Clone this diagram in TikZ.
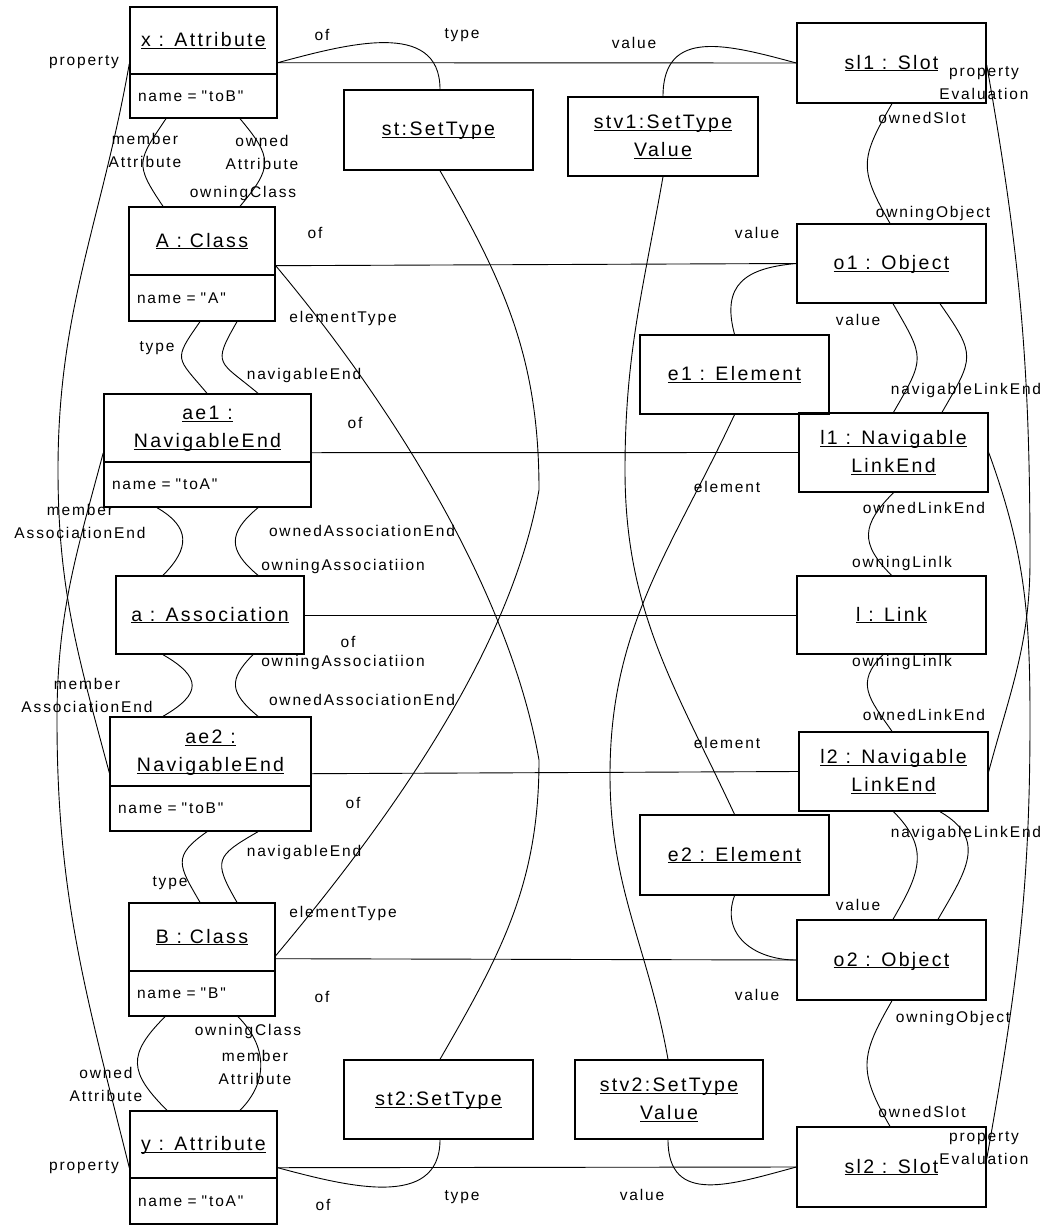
\documentclass[tikz,border=0pt]{standalone}
\usepackage{fontspec}
\setmainfont{Liberation Sans}[LetterSpace=12, Ligatures=TeXOff]
\usetikzlibrary{positioning}
\newcommand{\objfont}{\fontsize{19.5}{28}\selectfont}
\newcommand{\rolefont}{\fontsize{15.5}{23}\selectfont}
\newcommand{\objname}[1]{\underline{\raisebox{0pt}[\height][0pt]{#1}}}

\begin{document}
\begin{tikzpicture}[x=1pt, y=1pt]

% --- Styles ---
\tikzset{
    obj/.style={draw, line width=1.4pt, font=\objfont, align=center, inner sep=0pt},
    objval/.style={draw, line width=1.4pt, font=\rolefont, align=left, inner xsep=8pt, inner ysep=0pt},
    role/.style={font=\rolefont, align=center, inner sep=0pt},
    link/.style={line width=0.9pt}
}

\useasboundingbox (0,0) rectangle (1050,-1225);

% --- Left column: model side ---
\node[obj, minimum width=147pt, minimum height=67pt] (xattr) at (203.5,-40.5) {\objname{x : Attribute}};
\node[objval, text width=131pt, minimum height=44pt, below=-1.4pt of xattr] (xattrv) {name = "toB"};

\node[obj, minimum width=146pt, minimum height=68pt] (aclass) at (202,-241) {\objname{A : Class}};
\node[objval, text width=130pt, minimum height=46pt, below=-1.4pt of aclass] (aclassv) {name = "A"};

\node[obj, minimum width=207pt, minimum height=68pt] (ae1) at (207.5,-428) {\objname{ae1 :}\\\objname{NavigableEnd}};
\node[objval, text width=191pt, minimum height=45pt, below=-1.4pt of ae1] (ae1v) {name = "toA"};

\node[obj, minimum width=188pt, minimum height=78pt] (assoc) at (210,-615) {\objname{a : Association}};

\node[obj, minimum width=201pt, minimum height=69pt] (ae2) at (210.5,-751.5) {\objname{ae2 :}\\\objname{NavigableEnd}};
\node[objval, text width=185pt, minimum height=45pt, below=-1.4pt of ae2] (ae2v) {name = "toB"};

\node[obj, minimum width=146pt, minimum height=68pt] (bclass) at (202,-937) {\objname{B : Class}};
\node[objval, text width=130pt, minimum height=45pt, below=-1.4pt of bclass] (bclassv) {name = "B"};

\node[obj, minimum width=147pt, minimum height=67pt] (yattr) at (203.5,-1144.5) {\objname{y : Attribute}};
\node[objval, text width=131pt, minimum height=46pt, below=-1.4pt of yattr] (yattrv) {name = "toA"};

% --- Middle column: types and elements ---
\node[obj, minimum width=189pt, minimum height=80pt] (st) at (438.5,-130) {\objname{st:SetType}};
\node[obj, minimum width=190pt, minimum height=79pt] (stv1) at (663,-136.5) {\objname{stv1:SetType}\\\objname{Value}};
\node[obj, minimum width=189pt, minimum height=79pt] (e1) at (734.5,-374.5) {\objname{e1 : Element}};
\node[obj, minimum width=189pt, minimum height=80pt] (e2) at (734.5,-855) {\objname{e2 : Element}};
\node[obj, minimum width=189pt, minimum height=79pt] (st2) at (438.5,-1099.5) {\objname{st2:SetType}};
\node[obj, minimum width=188pt, minimum height=79pt] (stv2) at (669,-1099.5) {\objname{stv2:SetType}\\\objname{Value}};

% --- Right column: instance side ---
\node[obj, minimum width=189pt, minimum height=80pt] (sl1) at (891.5,-63) {\objname{sl1 : Slot}};
\node[obj, minimum width=189pt, minimum height=79pt] (o1) at (891.5,-263.5) {\objname{o1 : Object}};
\node[obj, minimum width=189pt, minimum height=79pt] (l1) at (893.5,-452.5) {\objname{l1 : Navigable}\\\objname{LinkEnd}};
\node[obj, minimum width=189pt, minimum height=78pt] (lnk) at (891.5,-615) {\objname{l : Link}};
\node[obj, minimum width=189pt, minimum height=79pt] (l2) at (893.5,-771.5) {\objname{l2 : Navigable}\\\objname{LinkEnd}};
\node[obj, minimum width=189pt, minimum height=80pt] (o2) at (891.5,-960) {\objname{o2 : Object}};
\node[obj, minimum width=189pt, minimum height=80pt] (sl2) at (891.5,-1167) {\objname{sl2 : Slot}};

% --- Bend points of the long links ---
\coordinate (bendSt) at (539,-490);
\coordinate (bendSt2) at (539,-760);
\coordinate (bendStv1) at (625,-470);
\coordinate (bendStv2) at (610,-775);
\coordinate (bendX) at (58,-470);
\coordinate (bendY) at (57,-720);
\coordinate (bendSl1) at (1030,-560);
\coordinate (bendSl2) at (1030,-720);

% --- "of" links (straight across) ---
\draw[link] ([yshift=12pt]xattr.south east) -- (sl1.west);
\draw[link] ([yshift=10pt]aclass.south east) -- (o1.west);
\draw[link] ([yshift=10pt]ae1.south east) -- (l1.west);
\draw[link] (assoc.east) -- (lnk.west);
\draw[link] ([yshift=13pt]ae2.south east) -- (l2.west);
\draw[link] ([yshift=13pt]bclass.south east) -- (o2.west);
\draw[link] ([yshift=11pt]yattr.south east) -- (sl2.west);

% --- type / value links to the set types ---
\draw[link] ([yshift=12pt]xattr.south east) to[out=15, in=90, looseness=1.1] ([xshift=1.5pt]st.north);
\draw[link] ([yshift=11pt]yattr.south east) to[out=-15, in=-90, looseness=1.1] ([xshift=1.5pt]st2.south);
\draw[link] (sl1.west) to[out=165, in=90, looseness=1.3] (stv1.north);
\draw[link] (sl2.west) to[out=195, in=-90, looseness=1.3] ([xshift=-1pt]stv2.south);

% --- elementType and element links (long crossings) ---
\draw[link] ([xshift=1.5pt]st.south) to[out=-60, in=90] (bendSt)
    to[out=-100, in=50, looseness=0.8] ([yshift=16pt]bclass.south east);
\draw[link] ([yshift=10pt]aclass.south east) to[out=-50, in=100, looseness=0.8] (bendSt2)
    to[out=-90, in=60] ([xshift=1.5pt]st2.north);
\draw[link] (stv1.south) to[out=-100, in=90] (bendStv1) to[out=-90, in=115] (e2.north);
\draw[link] (e1.south) to[out=-115, in=90] (bendStv2) to[out=-90, in=100] ([xshift=-1pt]stv2.north);

% --- property links on the left ---
\draw[link] ([yshift=11pt]xattr.south west) to[out=-100, in=90] (bendX)
    to[out=-90, in=105] ([yshift=14pt]ae2.south west);
\draw[link] ([yshift=10pt]ae1.south west) to[out=-105, in=90] (bendY)
    to[out=-90, in=104] ([yshift=11pt]yattr.south west);

% --- propertyEvaluation links on the right ---
\draw[link] ([yshift=-2pt]sl1.east) to[out=-80, in=90] (bendSl1) to[out=-90, in=75] (l2.east);
\draw[link] (l1.east) to[out=-70, in=90] (bendSl2) to[out=-90, in=80] ([yshift=8pt]sl2.east);

% --- Short links between stacked boxes (left) ---
\draw[link] ([xshift=-37.5pt]xattrv.south) to[out=236, in=124, looseness=1.5] ([xshift=-39pt]aclass.north);
\draw[link] ([xshift=36.5pt]xattrv.south) to[out=-50, in=50, looseness=1.5] ([xshift=38pt]aclass.north);
\draw[link] ([xshift=-2pt]aclassv.south) to[out=235, in=130, looseness=1.7] ([xshift=-0.5pt]ae1.north);
\draw[link] ([xshift=35pt]aclassv.south) to[out=240, in=140, looseness=1.75] ([xshift=50.5pt]ae1.north);
\draw[link] ([xshift=-50.5pt]ae1v.south) to[out=-30, in=45, looseness=1.45] ([xshift=-47pt]assoc.north);
\draw[link] ([xshift=50.5pt]ae1v.south) to[out=220, in=140, looseness=1.5] ([xshift=48pt]assoc.north);
\draw[link] ([xshift=-47pt]assoc.south) to[out=-30, in=30, looseness=1.87] ([xshift=-47.5pt]ae2.north);
\draw[link] ([xshift=43pt]assoc.south) to[out=225, in=140, looseness=1.5] ([xshift=47.5pt]ae2.north);
\draw[link] ([xshift=-3.5pt]ae2v.south) to[out=215, in=120, looseness=1.55] ([xshift=-2pt]bclass.north);
\draw[link] ([xshift=47.5pt]ae2v.south) to[out=210, in=120, looseness=1.7] ([xshift=35pt]bclass.north);
\draw[link] ([xshift=-37pt]bclassv.south) to[out=225, in=135, looseness=1.47] ([xshift=-36.5pt]yattr.north);
\draw[link] ([xshift=36pt]bclassv.south) to[out=-45, in=45, looseness=1.12] ([xshift=36.5pt]yattr.north);

% --- Short links between stacked boxes (right) ---
\draw[link] ([xshift=0.5pt]sl1.south) to[out=240, in=120, looseness=1.35] ([xshift=-1.5pt]o1.north);
\draw[link] (o1.west) to[out=185, in=105, looseness=1.4] (e1.north);
\draw[link] ([xshift=1.5pt]o1.south) to[out=-60, in=60, looseness=1.5] (l1.north);
\draw[link] ([xshift=48.5pt]o1.south) to[out=-55, in=60, looseness=1.5] ([xshift=48.5pt]l1.north);
\draw[link] (l1.south) to[out=225, in=135, looseness=1.4] (lnk.north);
\draw[link] ([xshift=-8.5pt]lnk.south) to[out=225, in=125, looseness=1.33] ([xshift=-1.5pt]l2.north);
\draw[link] (l2.south) to[out=-45, in=60, looseness=1.25] ([xshift=1.5pt]o2.north);
\draw[link] ([xshift=46.5pt]l2.south) to[out=-30, in=60, looseness=1.32] ([xshift=46.5pt]o2.north);
\draw[link] (e2.south) to[out=250, in=180, looseness=1.2] (o2.west);
\draw[link] ([xshift=0.5pt]o2.south) to[out=240, in=120, looseness=1.3] ([xshift=-1.5pt]sl2.north);

% --- Role labels ---
\node[role] (propX) at (84,-62) {property};
\node[role] (ofX) at (322,-35) {of};
\node[role] (typeX) at (462,-35) {type};
\node[role] (valSl1) at (634,-43) {value};
\node[role] (evalSl1) at (984,-83.5) {property\\Evaluation};
\node[role] (memAttrA) at (145,-150.5) {member\\Attribute};
\node[role] (ownAttrA) at (262,-152) {owned\\Attribute};
\node[role] (owningA) at (243,-193) {owningClass};
\node[role] (ownSlot1) at (922,-118) {ownedSlot};
\node[role] (owningO1) at (933,-213) {owningObject};
\node[role] (ofA) at (315,-233) {of};
\node[role] (valO1) at (757,-233) {value};
\node[role] (elTypeA) at (343,-318) {elementType};
\node[role] (valE1) at (858,-320) {value};
\node[role] (typeAe1) at (157,-348) {type};
\node[role] (navAe1) at (304,-375) {navigableEnd};
\node[role] (navL1) at (966,-390) {navigableLinkEnd};
\node[role] (ofAe1) at (355,-423) {of};
\node[role] (elE1) at (727,-487) {element};
\node[role] (ownLe1) at (924,-508) {ownedLinkEnd};
\node[role] (memEnd1) at (80,-521) {member\\AssociationEnd};
\node[role] (ownEnd1) at (362,-531) {ownedAssociationEnd};
\node[role] (owningAs1) at (343,-566) {owningAssociatiion};
\node[role] (owningL1) at (902,-563) {owningLinlk};
\node[role] (ofAs) at (348,-642) {of};
\node[role] (owningAs2) at (343,-662) {owningAssociatiion};
\node[role] (owningL2) at (902,-662) {owningLinlk};
\node[role] (memEnd2) at (87,-695.5) {member\\AssociationEnd};
\node[role] (ownEnd2) at (362,-700) {ownedAssociationEnd};
\node[role] (ownLe2) at (924,-715) {ownedLinkEnd};
\node[role] (elE2) at (727,-743) {element};
\node[role] (ofAe2) at (353,-803) {of};
\node[role] (navAe2) at (304,-852) {navigableEnd};
\node[role] (navL2) at (966,-833) {navigableLinkEnd};
\node[role] (typeAe2) at (170,-883) {type};
\node[role] (valE2) at (858,-905) {value};
\node[role] (elTypeB) at (343,-913) {elementType};
\node[role] (ofB) at (322,-997) {of};
\node[role] (valO2) at (757,-995) {value};
\node[role] (owningO2) at (953,-1018) {owningObject};
\node[role] (owningB) at (248,-1031) {owningClass};
\node[role] (memAttrB) at (255,-1067) {member\\Attribute};
\node[role] (ownAttrB) at (106,-1084) {owned\\Attribute};
\node[role] (ownSlot2) at (922,-1112) {ownedSlot};
\node[role] (evalSl2) at (984,-1148.5) {property\\Evaluation};
\node[role] (propY) at (84,-1167) {property};
\node[role] (ofY) at (323,-1205) {of};
\node[role] (typeY) at (462,-1197) {type};
\node[role] (valSl2) at (642,-1195) {value};

\end{tikzpicture}
\end{document}
